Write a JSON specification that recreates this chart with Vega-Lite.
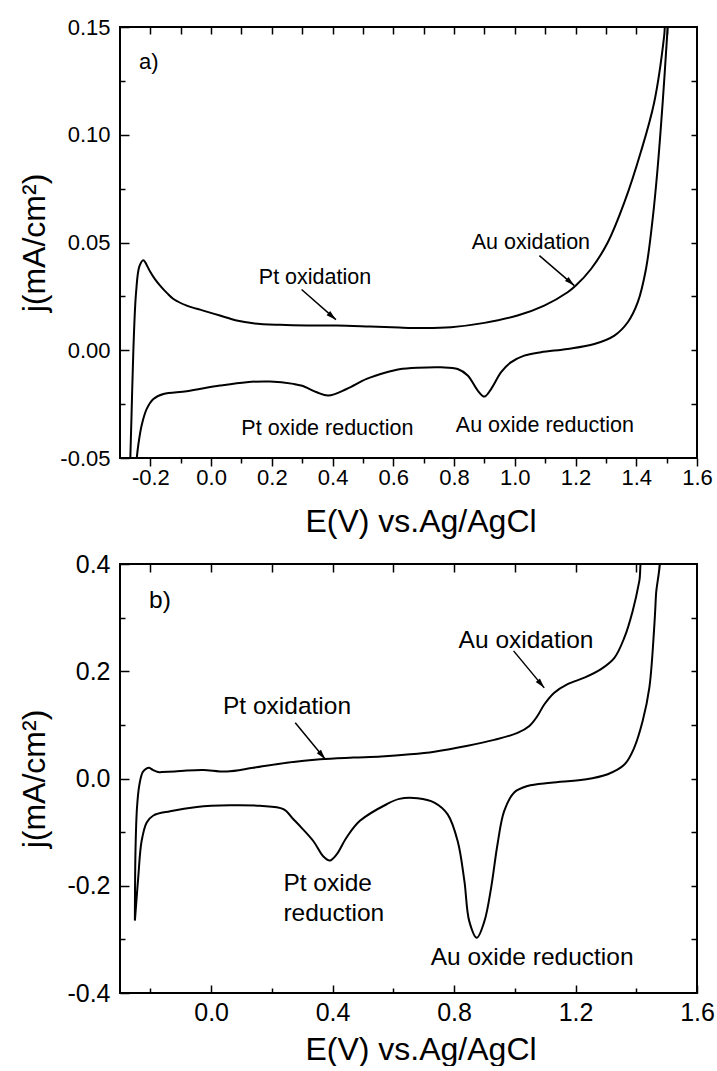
{
  "$schema": "https://vega.github.io/schema/vega-lite/v6.json",
  "background": "white",
  "padding": {"left": 17, "top": 15, "right": 0, "bottom": 0},
  "config": {
    "font": "Liberation Sans",
    "view": {"stroke": "black", "strokeWidth": 2},
    "axis": {
      "grid": false,
      "domain": false,
      "tickColor": "black",
      "tickWidth": 1.5,
      "labelColor": "black",
      "titleColor": "black",
      "titleFontWeight": "normal",
      "labelFlush": false,
      "labelOverlap": false,
      "labelBound": false
    }
  },
  "datasets": {
    "cvA": [
      {"i": 1, "E": -0.268, "j": -0.06},
      {"i": 2, "E": -0.262, "j": -0.03},
      {"i": 3, "E": -0.256, "j": 0.0},
      {"i": 4, "E": -0.247, "j": 0.027},
      {"i": 5, "E": -0.236, "j": 0.039},
      {"i": 6, "E": -0.223, "j": 0.0418},
      {"i": 7, "E": -0.21, "j": 0.039},
      {"i": 8, "E": -0.201, "j": 0.0365},
      {"i": 9, "E": -0.185, "j": 0.033},
      {"i": 10, "E": -0.168, "j": 0.03},
      {"i": 11, "E": -0.145, "j": 0.0265},
      {"i": 12, "E": -0.124, "j": 0.0238},
      {"i": 13, "E": -0.08, "j": 0.0207},
      {"i": 14, "E": -0.026, "j": 0.0184},
      {"i": 15, "E": 0.029, "j": 0.0161},
      {"i": 16, "E": 0.084, "j": 0.0138},
      {"i": 17, "E": 0.139, "j": 0.0125},
      {"i": 18, "E": 0.227, "j": 0.0118},
      {"i": 19, "E": 0.315, "j": 0.0115},
      {"i": 20, "E": 0.413, "j": 0.0115},
      {"i": 21, "E": 0.523, "j": 0.011},
      {"i": 22, "E": 0.62, "j": 0.0105},
      {"i": 23, "E": 0.7, "j": 0.0103},
      {"i": 24, "E": 0.79, "j": 0.0107},
      {"i": 25, "E": 0.9, "j": 0.0127},
      {"i": 26, "E": 1.009, "j": 0.0161},
      {"i": 27, "E": 1.097, "j": 0.0207},
      {"i": 28, "E": 1.174, "j": 0.0269},
      {"i": 29, "E": 1.201, "j": 0.03},
      {"i": 30, "E": 1.251, "j": 0.0377},
      {"i": 31, "E": 1.306, "j": 0.05},
      {"i": 32, "E": 1.361, "j": 0.0687},
      {"i": 33, "E": 1.415, "j": 0.092},
      {"i": 34, "E": 1.459, "j": 0.115},
      {"i": 35, "E": 1.492, "j": 0.146},
      {"i": 36, "E": 1.5, "j": 0.16},
      {"i": 37, "E": 1.508, "j": 0.16},
      {"i": 38, "E": 1.503, "j": 0.149},
      {"i": 39, "E": 1.487, "j": 0.115},
      {"i": 40, "E": 1.47, "j": 0.084},
      {"i": 41, "E": 1.454, "j": 0.061},
      {"i": 42, "E": 1.432, "j": 0.0377},
      {"i": 43, "E": 1.405, "j": 0.0223},
      {"i": 44, "E": 1.372, "j": 0.013},
      {"i": 45, "E": 1.328, "j": 0.0068},
      {"i": 46, "E": 1.262, "j": 0.0029},
      {"i": 47, "E": 1.174, "j": 0.0006},
      {"i": 48, "E": 1.086, "j": -0.0009},
      {"i": 49, "E": 1.031, "j": -0.0025},
      {"i": 50, "E": 0.987, "j": -0.0056},
      {"i": 51, "E": 0.955, "j": -0.0102},
      {"i": 52, "E": 0.922, "j": -0.018},
      {"i": 53, "E": 0.9, "j": -0.0215},
      {"i": 54, "E": 0.878, "j": -0.0187},
      {"i": 55, "E": 0.845, "j": -0.0117},
      {"i": 56, "E": 0.812, "j": -0.0087},
      {"i": 57, "E": 0.757, "j": -0.0079},
      {"i": 58, "E": 0.68, "j": -0.0081},
      {"i": 59, "E": 0.62, "j": -0.0088},
      {"i": 60, "E": 0.578, "j": -0.0102},
      {"i": 61, "E": 0.512, "j": -0.0133},
      {"i": 62, "E": 0.446, "j": -0.018},
      {"i": 63, "E": 0.386, "j": -0.021},
      {"i": 64, "E": 0.348, "j": -0.0195},
      {"i": 65, "E": 0.3, "j": -0.0165},
      {"i": 66, "E": 0.271, "j": -0.0156},
      {"i": 67, "E": 0.194, "j": -0.0145},
      {"i": 68, "E": 0.117, "j": -0.0148},
      {"i": 69, "E": 0.029, "j": -0.0164},
      {"i": 70, "E": -0.08, "j": -0.019},
      {"i": 71, "E": -0.157, "j": -0.0203},
      {"i": 72, "E": -0.19, "j": -0.0226},
      {"i": 73, "E": -0.212, "j": -0.0272},
      {"i": 74, "E": -0.229, "j": -0.035},
      {"i": 75, "E": -0.24, "j": -0.0442},
      {"i": 76, "E": -0.245, "j": -0.0504},
      {"i": 77, "E": -0.25, "j": -0.06}
    ],
    "cvB": [
      {"i": 1, "E": -0.251, "j": -0.265},
      {"i": 2, "E": -0.249, "j": -0.135},
      {"i": 3, "E": -0.244, "j": -0.054},
      {"i": 4, "E": -0.236, "j": -0.011},
      {"i": 5, "E": -0.225, "j": 0.012},
      {"i": 6, "E": -0.212, "j": 0.019},
      {"i": 7, "E": -0.204, "j": 0.02},
      {"i": 8, "E": -0.192, "j": 0.016},
      {"i": 9, "E": -0.175, "j": 0.012},
      {"i": 10, "E": -0.163, "j": 0.012},
      {"i": 11, "E": -0.12, "j": 0.013},
      {"i": 12, "E": -0.08, "j": 0.015},
      {"i": 13, "E": -0.026, "j": 0.016},
      {"i": 14, "E": 0.051, "j": 0.013},
      {"i": 15, "E": 0.139, "j": 0.02},
      {"i": 16, "E": 0.249, "j": 0.0295},
      {"i": 17, "E": 0.359, "j": 0.036},
      {"i": 18, "E": 0.468, "j": 0.039},
      {"i": 19, "E": 0.56, "j": 0.041},
      {"i": 20, "E": 0.655, "j": 0.045},
      {"i": 21, "E": 0.735, "j": 0.05},
      {"i": 22, "E": 0.845, "j": 0.061},
      {"i": 23, "E": 0.932, "j": 0.072},
      {"i": 24, "E": 1.009, "j": 0.085},
      {"i": 25, "E": 1.048, "j": 0.098},
      {"i": 26, "E": 1.075, "j": 0.117},
      {"i": 27, "E": 1.097, "j": 0.138},
      {"i": 28, "E": 1.13, "j": 0.16},
      {"i": 29, "E": 1.174, "j": 0.176},
      {"i": 30, "E": 1.229, "j": 0.188},
      {"i": 31, "E": 1.284, "j": 0.204},
      {"i": 32, "E": 1.328, "j": 0.225},
      {"i": 33, "E": 1.361, "j": 0.263},
      {"i": 34, "E": 1.388, "j": 0.312},
      {"i": 35, "E": 1.41, "j": 0.368},
      {"i": 36, "E": 1.424, "j": 0.42},
      {"i": 37, "E": 1.472, "j": 0.42},
      {"i": 38, "E": 1.465, "j": 0.343},
      {"i": 39, "E": 1.459, "j": 0.281},
      {"i": 40, "E": 1.443, "j": 0.169},
      {"i": 41, "E": 1.421, "j": 0.107},
      {"i": 42, "E": 1.393, "j": 0.057},
      {"i": 43, "E": 1.361, "j": 0.026},
      {"i": 44, "E": 1.306, "j": 0.008},
      {"i": 45, "E": 1.229, "j": -0.002},
      {"i": 46, "E": 1.119, "j": -0.008},
      {"i": 47, "E": 1.042, "j": -0.014},
      {"i": 48, "E": 0.998, "j": -0.026},
      {"i": 49, "E": 0.965, "j": -0.061},
      {"i": 50, "E": 0.943, "j": -0.123},
      {"i": 51, "E": 0.922, "j": -0.204},
      {"i": 52, "E": 0.9, "j": -0.266},
      {"i": 53, "E": 0.875, "j": -0.297},
      {"i": 54, "E": 0.85, "j": -0.266},
      {"i": 55, "E": 0.834, "j": -0.191},
      {"i": 56, "E": 0.812, "j": -0.117},
      {"i": 57, "E": 0.779, "j": -0.067},
      {"i": 58, "E": 0.735, "j": -0.045},
      {"i": 59, "E": 0.68, "j": -0.037},
      {"i": 60, "E": 0.62, "j": -0.038},
      {"i": 61, "E": 0.578, "j": -0.048},
      {"i": 62, "E": 0.49, "j": -0.079},
      {"i": 63, "E": 0.446, "j": -0.11},
      {"i": 64, "E": 0.414, "j": -0.141},
      {"i": 65, "E": 0.391, "j": -0.153},
      {"i": 66, "E": 0.369, "j": -0.145},
      {"i": 67, "E": 0.337, "j": -0.117},
      {"i": 68, "E": 0.298, "j": -0.092},
      {"i": 69, "E": 0.271, "j": -0.076},
      {"i": 70, "E": 0.238, "j": -0.057},
      {"i": 71, "E": 0.161, "j": -0.051},
      {"i": 72, "E": 0.062, "j": -0.05},
      {"i": 73, "E": -0.047, "j": -0.053},
      {"i": 74, "E": -0.135, "j": -0.061},
      {"i": 75, "E": -0.19, "j": -0.069},
      {"i": 76, "E": -0.212, "j": -0.082},
      {"i": 77, "E": -0.229, "j": -0.117},
      {"i": 78, "E": -0.24, "j": -0.185},
      {"i": 79, "E": -0.248, "j": -0.243},
      {"i": 80, "E": -0.251, "j": -0.265}
    ],
    "labelsA": [
      {"t": "Pt oxidation", "E": 0.342, "j": 0.0306},
      {"t": "Pt oxide reduction", "E": 0.383, "j": -0.0394},
      {"t": "Au oxidation", "E": 1.053, "j": 0.047},
      {"t": "Au oxide reduction", "E": 1.099, "j": -0.038}
    ],
    "tagsA": [
      {"t": "a)", "E": -0.2374, "j": 0.1304}
    ],
    "arrowsA": [
      {"E0": 0.298, "j0": 0.0282, "E1": 0.411, "j1": 0.0142},
      {"E0": 1.081, "j0": 0.0439, "E1": 1.196, "j1": 0.03}
    ],
    "labelsB": [
      {"t": "Pt oxidation", "E": 0.25, "j": 0.12},
      {"t": "Au oxidation", "E": 1.037, "j": 0.244},
      {"t": "Au oxide reduction", "E": 1.057, "j": -0.347}
    ],
    "tagsB": [
      {"t": "b)", "E": -0.2045, "j": 0.318},
      {"t": "Pt oxide", "E": 0.238, "j": -0.21},
      {"t": "reduction", "E": 0.238, "j": -0.266}
    ],
    "arrowsB": [
      {"E0": 0.277, "j0": 0.104, "E1": 0.376, "j1": 0.036},
      {"E0": 0.996, "j0": 0.238, "E1": 1.097, "j1": 0.169}
    ]
  },
  "spacing": 106,
  "bounds": "flush",
  "vconcat": [
    {
      "width": 577,
      "height": 431,
      "resolve": {"axis": {"x": "independent", "y": "independent"}},
      "layer": [
        {
          "data": {"name": "cvA"},
          "mark": {"type": "line", "color": "black", "strokeWidth": 2, "interpolate": "catmull-rom", "clip": true},
          "encoding": {
            "x": {
              "field": "E", "type": "quantitative",
              "scale": {"domain": [-0.3, 1.6], "nice": false, "zero": false},
              "axis": {
                "orient": "bottom",
                "values": [-0.2, 0, 0.2, 0.4, 0.6, 0.8, 1.0, 1.2, 1.4, 1.6],
                "format": ".1f",
                "labelExpr": "replace(datum.label, '\u2212', '-')",
                "tickSize": 8,
                "labelPadding": 1.5,
                "labelFontSize": 22,
                "title": "E(V) vs.Ag/AgCl",
                "titleFontSize": 32,
                "titleBaseline": "alphabetic",
                "titleX": 300.5,
                "titleY": 73
              }
            },
            "y": {
              "field": "j", "type": "quantitative",
              "scale": {"domain": [-0.05, 0.15], "nice": false, "zero": false},
              "axis": {
                "orient": "left",
                "values": [-0.05, 0, 0.05, 0.1, 0.15],
                "format": ".2f",
                "labelExpr": "replace(datum.label, '\u2212', '-')",
                "offset": -9,
                "tickSize": 9,
                "labelPadding": 10,
                "labelFontSize": 22,
                "title": "j(mA/cm²)",
                "titleFontSize": 32,
                "titleAngle": 270,
                "titleAlign": "center",
                "titleBaseline": "middle",
                "titleX": -95,
                "titleY": 215.5
              }
            },
            "order": {"field": "i", "type": "quantitative"}
          }
        },
        {
          "data": {"name": "labelsA"},
          "mark": {"type": "text", "color": "black", "fontSize": 21.5, "align": "center", "baseline": "alphabetic"},
          "encoding": {
            "x": {
              "field": "E", "type": "quantitative",
              "scale": {"domain": [-0.3, 1.6], "nice": false, "zero": false},
              "axis": {
                "orient": "bottom",
                "values": [-0.1, 0.1, 0.3, 0.5, 0.7, 0.9, 1.1, 1.3, 1.5],
                "labels": false,
                "title": null,
                "tickSize": 5
              }
            },
            "y": {
              "field": "j", "type": "quantitative",
              "scale": {"domain": [-0.05, 0.15], "nice": false, "zero": false},
              "axis": {
                "orient": "left",
                "values": [-0.025, 0.025, 0.075, 0.125],
                "labels": false,
                "title": null,
                "offset": -5,
                "tickSize": 5
              }
            },
            "text": {"field": "t", "type": "nominal"}
          }
        },
        {
          "data": {"name": "tagsA"},
          "mark": {"type": "text", "color": "black", "fontSize": 22, "align": "left", "baseline": "alphabetic"},
          "encoding": {
            "x": {
              "field": "E", "type": "quantitative",
              "scale": {"domain": [-0.3, 1.6], "nice": false, "zero": false},
              "axis": {
                "orient": "top",
                "values": [-0.2, -0.1, 0, 0.1, 0.2, 0.3, 0.4, 0.5, 0.6, 0.7, 0.8, 0.9, 1.0, 1.1, 1.2, 1.3, 1.4, 1.5],
                "labels": false,
                "title": null,
                "offset": -7,
                "tickSize": 7
              }
            },
            "y": {
              "field": "j", "type": "quantitative",
              "scale": {"domain": [-0.05, 0.15], "nice": false, "zero": false},
              "axis": {
                "orient": "right",
                "values": [-0.025, 0, 0.025, 0.05, 0.075, 0.1, 0.125],
                "labels": false,
                "title": null,
                "offset": -6,
                "tickSize": 6
              }
            },
            "text": {"field": "t", "type": "nominal"}
          }
        },
        {
          "data": {"name": "arrowsA"},
          "mark": {"type": "rule", "color": "black", "strokeWidth": 1.5},
          "encoding": {
            "x": {"field": "E0", "type": "quantitative", "scale": {"domain": [-0.3, 1.6], "nice": false, "zero": false}, "axis": null},
            "y": {"field": "j0", "type": "quantitative", "scale": {"domain": [-0.05, 0.15], "nice": false, "zero": false}, "axis": null},
            "x2": {"field": "E1"},
            "y2": {"field": "j1"}
          }
        },
        {
          "data": {"name": "arrowsA"},
          "mark": {"type": "point", "shape": "M0,0L0.55,2L-0.55,2Z", "filled": true, "color": "black", "opacity": 1, "size": 100, "angle": 131, "strokeWidth": 0},
          "encoding": {
            "x": {"field": "E1", "type": "quantitative", "scale": {"domain": [-0.3, 1.6], "nice": false, "zero": false}, "axis": null},
            "y": {"field": "j1", "type": "quantitative", "scale": {"domain": [-0.05, 0.15], "nice": false, "zero": false}, "axis": null}
          }
        }
      ]
    },
    {
      "width": 577,
      "height": 429,
      "resolve": {"axis": {"x": "independent", "y": "independent"}},
      "layer": [
        {
          "data": {"name": "cvB"},
          "mark": {"type": "line", "color": "black", "strokeWidth": 2, "interpolate": "catmull-rom", "clip": true},
          "encoding": {
            "x": {
              "field": "E", "type": "quantitative",
              "scale": {"domain": [-0.3, 1.6], "nice": false, "zero": false},
              "axis": {
                "orient": "bottom",
                "values": [0, 0.4, 0.8, 1.2, 1.6],
                "format": ".1f",
                "labelExpr": "replace(datum.label, '\u2212', '-')",
                "offset": -8,
                "tickSize": 8,
                "labelPadding": 7,
                "labelFontSize": 25,
                "title": "E(V) vs.Ag/AgCl",
                "titleFontSize": 32,
                "titleBaseline": "alphabetic",
                "titleX": 300.5,
                "titleY": 74
              }
            },
            "y": {
              "field": "j", "type": "quantitative",
              "scale": {"domain": [-0.4, 0.4], "nice": false, "zero": false},
              "axis": {
                "orient": "left",
                "values": [-0.4, -0.2, 0, 0.2, 0.4],
                "format": ".1f",
                "labelExpr": "replace(datum.label, '\u2212', '-')",
                "offset": -9,
                "tickSize": 9,
                "labelPadding": 10,
                "labelFontSize": 25,
                "title": "j(mA/cm²)",
                "titleFontSize": 32,
                "titleAngle": 270,
                "titleAlign": "center",
                "titleBaseline": "middle",
                "titleX": -95,
                "titleY": 214.5
              }
            },
            "order": {"field": "i", "type": "quantitative"}
          }
        },
        {
          "data": {"name": "labelsB"},
          "mark": {"type": "text", "color": "black", "fontSize": 24.5, "align": "center", "baseline": "alphabetic"},
          "encoding": {
            "x": {
              "field": "E", "type": "quantitative",
              "scale": {"domain": [-0.3, 1.6], "nice": false, "zero": false},
              "axis": {
                "orient": "bottom",
                "values": [-0.2, 0.2, 0.6, 1.0, 1.4],
                "labels": false,
                "title": null,
                "offset": -5,
                "tickSize": 5
              }
            },
            "y": {
              "field": "j", "type": "quantitative",
              "scale": {"domain": [-0.4, 0.4], "nice": false, "zero": false},
              "axis": {
                "orient": "left",
                "values": [-0.3, -0.1, 0.1, 0.3],
                "labels": false,
                "title": null,
                "offset": -5,
                "tickSize": 5
              }
            },
            "text": {"field": "t", "type": "nominal"}
          }
        },
        {
          "data": {"name": "tagsB"},
          "mark": {"type": "text", "color": "black", "fontSize": 24.5, "align": "left", "baseline": "alphabetic"},
          "encoding": {
            "x": {
              "field": "E", "type": "quantitative",
              "scale": {"domain": [-0.3, 1.6], "nice": false, "zero": false},
              "axis": {
                "orient": "top",
                "values": [-0.2, 0, 0.2, 0.4, 0.6, 0.8, 1.0, 1.2, 1.4],
                "labels": false,
                "title": null,
                "offset": -8,
                "tickSize": 8
              }
            },
            "y": {
              "field": "j", "type": "quantitative",
              "scale": {"domain": [-0.4, 0.4], "nice": false, "zero": false},
              "axis": {
                "orient": "right",
                "values": [-0.3, -0.2, -0.1, 0, 0.1, 0.2, 0.3],
                "labels": false,
                "title": null,
                "offset": -6,
                "tickSize": 6
              }
            },
            "text": {"field": "t", "type": "nominal"}
          }
        },
        {
          "data": {"name": "arrowsB"},
          "mark": {"type": "rule", "color": "black", "strokeWidth": 1.5},
          "encoding": {
            "x": {"field": "E0", "type": "quantitative", "scale": {"domain": [-0.3, 1.6], "nice": false, "zero": false}, "axis": null},
            "y": {"field": "j0", "type": "quantitative", "scale": {"domain": [-0.4, 0.4], "nice": false, "zero": false}, "axis": null},
            "x2": {"field": "E1"},
            "y2": {"field": "j1"}
          }
        },
        {
          "data": {"name": "arrowsB"},
          "mark": {"type": "point", "shape": "M0,0L0.55,2L-0.55,2Z", "filled": true, "color": "black", "opacity": 1, "size": 100, "angle": 140, "strokeWidth": 0},
          "encoding": {
            "x": {"field": "E1", "type": "quantitative", "scale": {"domain": [-0.3, 1.6], "nice": false, "zero": false}, "axis": null},
            "y": {"field": "j1", "type": "quantitative", "scale": {"domain": [-0.4, 0.4], "nice": false, "zero": false}, "axis": null}
          }
        }
      ]
    }
  ]
}
